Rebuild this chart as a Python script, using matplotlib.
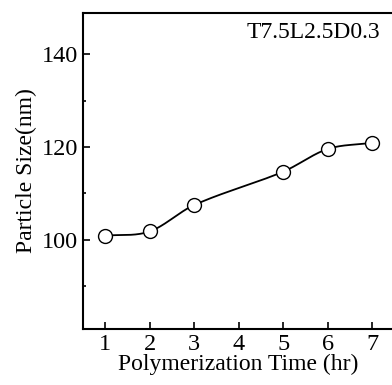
import numpy as np
import matplotlib
matplotlib.use("Agg")
import matplotlib.pyplot as plt
from matplotlib.ticker import MultipleLocator

plt.rcParams['font.family'] = ['Liberation Serif', 'DejaVu Serif']

# data
time_hr = [1, 2, 3, 5, 6, 7]
size_nm = [100.9, 101.8, 107.5, 114.7, 119.6, 120.9]
x_ticks = [1, 2, 3, 4, 5, 6, 7]
y_ticks = [100, 120, 140]


def smooth_line(x, y, n=300):
    # catmull-rom style hermite curve through the measured points
    x = np.asarray(x, float)
    y = np.asarray(y, float)
    h = np.diff(x)
    m = np.empty_like(y)
    m[1:-1] = (y[2:] - y[:-2]) / (x[2:] - x[:-2])
    m[0] = (y[1] - y[0]) / h[0]
    m[-1] = (y[-1] - y[-2]) / h[-1]
    xs = np.linspace(x[0], x[-1], n)
    idx = np.clip(np.searchsorted(x, xs) - 1, 0, len(x) - 2)
    t = (xs - x[idx]) / h[idx]
    h00 = 2 * t**3 - 3 * t**2 + 1
    h10 = t**3 - 2 * t**2 + t
    h01 = -2 * t**3 + 3 * t**2
    h11 = t**3 - t**2
    ys = h00 * y[idx] + h10 * h[idx] * m[idx] + h01 * y[idx + 1] + h11 * h[idx] * m[idx + 1]
    return xs, ys


fig = plt.figure(figsize=(3.92, 3.85), dpi=100)
ax = fig.add_axes([0.211, 0.1447, 0.7955, 0.8223])

xs, ys = smooth_line(time_hr, size_nm)
ax.plot(xs, ys, color='black', lw=1.3, zorder=2)
ax.plot(time_hr, size_nm, 'o', ms=10, mfc='white', mec='black', mew=1.0, zorder=3)

ax.set_xlim(0.5, 7.5)
ax.set_ylim(80.7, 149)
ax.set_xticks(x_ticks)
ax.set_yticks(y_ticks)
ax.yaxis.set_minor_locator(MultipleLocator(10))
ax.tick_params(which='both', direction='in', labelsize=17.5, width=1.2)
ax.tick_params(which='major', length=5)
ax.tick_params(which='minor', length=2.5)
for s in ax.spines.values():
    s.set_linewidth(1.5)

ax.set_xlabel('Polymerization Time (hr)', fontsize=17, labelpad=-1)
ax.set_ylabel('Particle Size(nm)', fontsize=17, labelpad=3)
ax.text(0.953, 0.920, 'T7.5L2.5D0.3', transform=ax.transAxes, ha='right', va='baseline', fontsize=17)

fig.savefig('out.png', dpi=100)
